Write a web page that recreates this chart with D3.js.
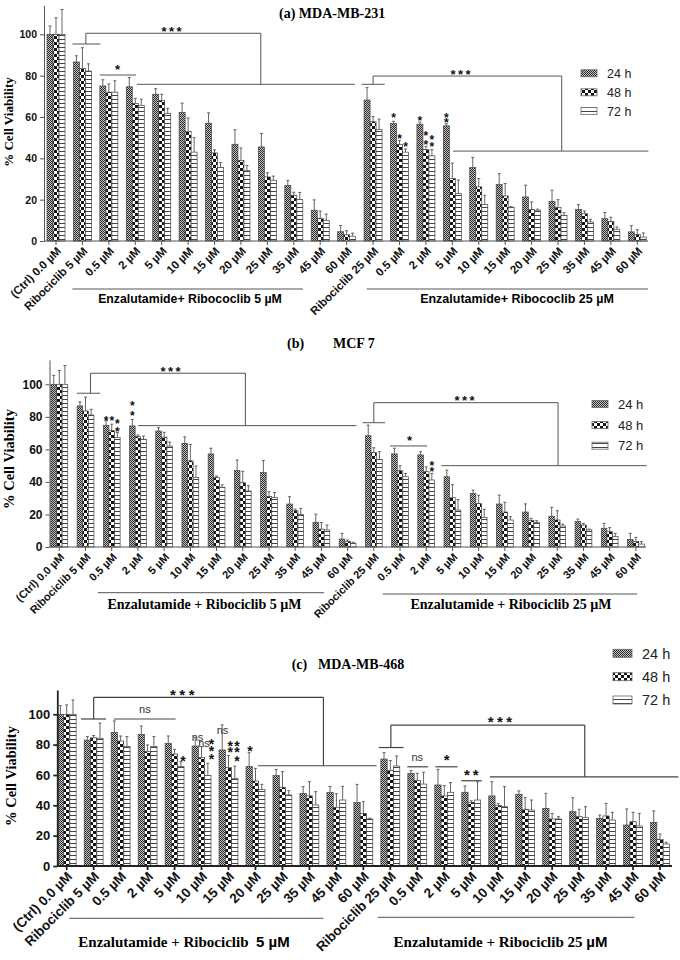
<!DOCTYPE html>
<html><head><meta charset="utf-8">
<script src="https://cdn.jsdelivr.net/npm/d3@7"></script>
<style>body{margin:0;background:#fff}svg{display:block}</style>
</head><body>
<svg id="chart" width="680" height="960"></svg>
<script>
// ---------------- DATA ----------------
const categories = ["(Ctrl) 0.0 µM","Ribociclib 5 µM","0.5 µM","2 µM","5 µM","10 µM","15 µM","20 µM","25 µM","35 µM","45 µM","60 µM",
  "Ribociclib 25 µM","0.5 µM","2 µM","5 µM","10 µM","15 µM","20 µM","25 µM","35 µM","45 µM","60 µM"];
const seriesNames = ["24 h","48 h","72 h"];
const yTicks = [0,20,40,60,80,100];

// (a) MDA-MB-231
const a24 = [100,86.6,75,74.6,71,62.2,57,46.8,45.5,26.8,14.9,4.5,68.2,56.9,56.5,55.7,35.5,27.3,21.3,19.2,15.3,10.8,4.4];
const a48 = [100,83.5,72,66.5,68,53,42.6,39,31,22.1,11,3,57.7,46.7,44.3,30.2,26.2,21.8,15.3,16.2,13.2,9.5,3.2];
const a72 = [100,82.2,72,65.6,61.7,43,35.5,34,29.4,20,10,2.3,54,43,41.2,23,17.6,16.2,14.9,12.4,9.2,5.7,1.9];
const aErr24 = [4,3,3,4.5,2.7,4.5,5,7,6.5,2.5,5,3,6,1,1,1,5,5.3,5.7,5.4,2.3,3,3];
const aErr48 = [8,10,4,2.5,3,6.5,1.5,6,2,1.5,3.5,2,2.5,2,1.5,7.5,4,6,3.6,3.8,1.3,2,2.3];
const aErr72 = [12,3.5,5.5,3,2.5,7,2.5,2.5,2,3.5,3,1.5,5,1.5,3,6.5,4.5,0.5,0.5,1.3,1.3,1.1,2];

// (b) MCF 7
const b24 = [100,86.7,74.8,74.4,71.3,63.7,57.2,47,45.7,26.4,15.2,4.9,68.4,57.2,56.6,43.2,33,26.4,21.5,18.9,15.6,11.5,4.7];
const b48 = [100,83.6,71.5,67.8,67.5,53,42.6,39.5,31,22.3,11,3.3,58,46.9,46.3,30.3,26.8,21.5,16.2,16.6,13.5,9.4,3.3];
const b72 = [100,81.1,67.4,66.2,62,42.8,36.7,34.4,30.5,20,10.5,2.3,53.9,43.2,41.2,22.7,18.2,16.6,15,12.9,10.5,6.4,1.8];
const bErr24 = [5.5,2.5,3,4,2,4,3.5,6.5,7.5,4.5,5,3.5,6.5,3.5,2,4,2,5.5,5,5.5,1.6,3,3.7];
const bErr48 = [8.5,8.5,4,1,3,10,1,7,3,1,4,1,3,3,3,8,5,6,1.4,5.7,1,2.5,2.6];
const bErr72 = [11.5,3.5,3,2,2.5,7,1.5,3.3,3,3.8,3,0.6,4.7,2,4,6.5,5,2,1.2,1.2,0.5,2,1.5];

// (c) MDA-MB-468
const c24 = [100,83,88.1,86.8,80.9,79.1,76.5,65.5,59.6,47.9,48.4,41.8,70.5,61.1,53.4,48.6,46.2,47.3,38,35.8,31.4,27,28.8];
const c48 = [100,84.5,82.4,75.4,73.8,71.4,64.8,56,51.9,46.2,38.7,34.7,62.9,56.3,46.2,42,39.8,37.4,31,32.5,33,29.2,17.6];
const c72 = [100,84.2,78.7,78.7,65.5,59.6,57.8,50.5,46.8,40.2,43.5,31,65.9,54,48.6,43.5,39.1,36.9,31,32.1,30.3,26.4,14.5];
const cErr24 = [5.7,2.3,7.5,5.5,4.8,5.7,16.5,9.2,4.1,4.4,4,12,4.2,1.8,10.3,4.1,9.4,2.2,9.9,9.2,2.2,10.6,7.5];
const cErr48 = [6.2,1.5,3.3,4.4,3.1,7.3,8,8.4,10.3,9.4,9,7.7,6.6,4.8,6.8,1,1.5,7.7,3.7,4.9,8.3,6.2,3.5];
const cErr72 = [9.5,10,6.6,6.6,3.3,8.1,8,3.3,2.9,8.8,9,0.5,6.6,7.8,6.4,12,13.2,6.6,1.5,7,5.1,8.3,1.1];

// ---------------- DRAWING ----------------
const svg = d3.select("#chart");
const SANS = "Arial, 'Liberation Sans', sans-serif";
const SERIF = "'Times New Roman', 'Liberation Serif', serif";
const defs = svg.append("defs");
const patIds = ["p24","p48","p72"];
(function(){
  let p = defs.append("pattern").attr("id","p24").attr("patternUnits","userSpaceOnUse").attr("width",2).attr("height",2);
  p.append("rect").attr("width",2).attr("height",2).attr("fill","#c4c4c4");
  p.append("rect").attr("width",1).attr("height",1).attr("fill","#2a2a2a");
  p.append("rect").attr("x",1).attr("y",1).attr("width",1).attr("height",1).attr("fill","#2a2a2a");
  p = defs.append("pattern").attr("id","p48").attr("patternUnits","userSpaceOnUse").attr("width",6).attr("height",6);
  p.append("rect").attr("width",6).attr("height",6).attr("fill","#fff");
  p.append("rect").attr("width",3).attr("height",3).attr("fill","#151515");
  p.append("rect").attr("x",3).attr("y",3).attr("width",3).attr("height",3).attr("fill","#151515");
  p = defs.append("pattern").attr("id","p72").attr("patternUnits","userSpaceOnUse").attr("width",4).attr("height",4);
  p.append("rect").attr("width",4).attr("height",4).attr("fill","#fff");
  p.append("rect").attr("y",3).attr("width",4).attr("height",1).attr("fill","#444");
})();

function drawPanel(cfg){
  const g = svg.append("g");
  const x = d3.scaleBand().domain(d3.range(categories.length)).range(cfg.xRange).padding(0);
  const step = x.step();
  const y = d3.scaleLinear().domain([0, cfg.yTop]).range([cfg.y0, cfg.y0 - cfg.yTop*cfg.ppu]);
  const xi = d3.scaleBand().domain([0,1,2]).range([-1.5*cfg.bw, 1.5*cfg.bw]);
  const cx = i => x(i) + step/2;
  const X = (i,f) => cx(i) + f*step;
  const barC = (i,s) => cx(i) + xi(s) + xi.bandwidth()/2;
  const lc = cfg.lineColor, lw = cfg.lineWidth;

  // bars
  cfg.values.forEach((vals, s) => {
    const rows = vals.map((v,i) => ({i, s, v, e: cfg.errors[s][i]}));
    g.append("g").selectAll("rect").data(rows).enter().append("rect")
      .attr("x", d => cx(d.i) + xi(d.s)).attr("width", xi.bandwidth())
      .attr("y", d => y(d.v)).attr("height", d => y(0) - y(d.v))
      .attr("fill", `url(#${patIds[s]})`).attr("stroke", "#444").attr("stroke-width", 0.7);
    const eg = g.append("g").attr("stroke", "#555").attr("stroke-width", 0.9);
    eg.selectAll("line.v").data(rows).enter().append("line")
      .attr("x1", d => barC(d.i,d.s)).attr("x2", d => barC(d.i,d.s))
      .attr("y1", d => y(d.v)).attr("y2", d => y(d.v + d.e));
    eg.selectAll("line.c").data(rows).enter().append("line")
      .attr("x1", d => barC(d.i,d.s)-1.5).attr("x2", d => barC(d.i,d.s)+1.5)
      .attr("y1", d => y(d.v + d.e)).attr("y2", d => y(d.v + d.e));
  });

  // y axis
  const ya = g.append("g").attr("transform", `translate(${cfg.yAxisX},0)`)
    .call(d3.axisLeft(y).tickValues(yTicks).tickSize(4).tickSizeOuter(0).tickPadding(3));
  ya.select(".domain").attr("stroke", lc).attr("stroke-width", lw);
  ya.selectAll(".tick line").attr("stroke", lc).attr("stroke-width", lw);
  ya.selectAll("text").attr("font-family", SANS).attr("font-weight","bold").attr("font-size", cfg.yFont).attr("fill","#111");

  // x axis
  const xa = g.append("g").attr("transform", `translate(0,${cfg.y0})`)
    .call(d3.axisBottom(x).tickFormat(i => categories[i]).tickSize(4).tickSizeOuter(0));
  xa.select(".domain").remove();
  xa.selectAll(".tick line").attr("stroke", lc).attr("stroke-width", lw);
  xa.selectAll("text").attr("x",0).attr("y",0).attr("dy","0.35em").attr("text-anchor","end")
    .attr("transform", `translate(3,${cfg.xLabOff}) rotate(-45)`)
    .attr("font-family", SANS).attr("font-weight","bold").attr("font-size", cfg.xFont).attr("fill","#111");
  g.append("line").attr("x1", cfg.yAxisX).attr("x2", cfg.axisEnd).attr("y1", cfg.y0).attr("y2", cfg.y0)
    .attr("stroke", lc).attr("stroke-width", lw);

  // y label
  g.append("text").attr("transform", `translate(${cfg.yLab[0]},${cfg.yLab[1]}) rotate(-90)`)
    .attr("text-anchor","middle").attr("font-family", SERIF).attr("font-weight","bold")
    .attr("font-size", cfg.yLabFont).text("% Cell Viability");

  // legend
  seriesNames.forEach((nm, s) => {
    const yc = cfg.legend.ys[s];
    g.append("rect").attr("x", cfg.legend.x).attr("y", yc - cfg.legend.h/2)
      .attr("width", cfg.legend.w).attr("height", cfg.legend.h)
      .attr("fill", `url(#${patIds[s]})`).attr("stroke","#666").attr("stroke-width",0.8);
    g.append("text").attr("x", cfg.legend.tx).attr("y", yc).attr("dy","0.36em")
      .attr("font-family", SANS).attr("font-size", cfg.legend.font).attr("fill","#222").text(nm);
  });

  const ann = g.append("g").attr("stroke", cfg.annColor).attr("stroke-width", cfg.annWidth).attr("fill","none");
  const api = {
    h: (x1, x2, v) => ann.append("line").attr("x1",x1).attr("x2",x2).attr("y1",y(v)).attr("y2",y(v)),
    v: (xx, v1, v2) => ann.append("line").attr("x1",xx).attr("x2",xx).attr("y1",y(v1)).attr("y2",y(v2)),
    star: (xx, v, txt, size, ls) => g.append("text").attr("x", xx).attr("y", y(v) + 0.57*size)
      .attr("text-anchor","middle").attr("font-family", SANS).attr("font-weight","bold")
      .attr("font-size", size).attr("letter-spacing", ls || 0).attr("fill","#111").text(txt),
    ns: (xx, v, size) => g.append("text").attr("x", xx).attr("y", y(v)).attr("dy","0.35em")
      .attr("text-anchor","middle").attr("font-family", SANS).attr("font-size", size).attr("fill","#333").text("ns"),
    // a cluster of asterisks (and "ns" marks) drawn as ONE text element, each glyph placed on its own
    cluster: (stars, size, nss, nsSize) => {
      const t = g.append("text").attr("text-anchor","middle").attr("font-family", SANS);
      if (nss && nss.length) {
        const k = nsSize/11, xs = [], ys = [];
        nss.forEach(n => { xs.push(n.x - 2.75*k, n.x + 3.05*k); const yy = y(n.v) + 0.35*nsSize; ys.push(yy, yy); });
        t.append("tspan").attr("x", xs.join(" ")).attr("y", ys.join(" "))
          .attr("font-size", nsSize).attr("fill","#333").text("ns".repeat(nss.length));
      }
      t.append("tspan").attr("x", stars.map(s => s.x).join(" "))
        .attr("y", stars.map(s => y(s.v) + 0.57*size).join(" "))
        .attr("font-size", size).attr("font-weight","bold").attr("fill","#111")
        .text("*".repeat(stars.length));
      return t;
    },
    X, y, barC, g
  };
  return api;
}

// ---- Panel (a)
const A = drawPanel({
  values:[a24,a48,a72], errors:[aErr24,aErr48,aErr72],
  xRange:[42.8,650.5], y0:241, ppu:2.067, yTop:114, yAxisX:44, axisEnd:648, bw:6,
  yFont:10.5, xFont:11.5, xLabOff:8, yLab:[13,122], yLabFont:13,
  lineColor:"#555", lineWidth:1, annColor:"#555", annWidth:1,
  legend:{x:581, w:16, h:7, ys:[73.3,92.3,111], tx:607, font:12.5}
});
A.h(A.X(1,-0.38), A.X(1,0.68), 95.3);
A.v(A.X(1,0.13), 95.3, 100.5);
A.h(A.X(1,0.13), A.X(8,-0.25), 100.5);
A.v(A.X(8,-0.25), 100.5, 75.8);
A.h(A.X(3,0.06), A.X(11,0.31), 75.8);
A.h(A.X(2,-0.34), A.X(3,0.03), 80.3);
A.h(A.X(12,-0.43), A.X(12,0.44), 75.8);
A.v(A.X(12,0), 75.8, 79.8);
A.h(A.X(12,0), A.X(19,0.14), 79.8);
A.v(A.X(19,0.14), 79.8, 43.5);
A.h(A.X(15,0.03), A.X(22,0.42), 43.5);
A.star(A.X(4,0.42), 103, "***", 13, 2.5);
A.star(A.X(2,0.33), 84.2, "*", 13);
A.star(A.X(15,0.36), 82, "***", 13, 2.5);
[[[13,0,61],[13,1,50.8],[13,2,46.9]],
 [[14,0,59.5],[14,1,52.1],[14,1,48],[14,2,50],[14,2,46.8]],
 [[15,0,61],[15,0,58.4]]]
  .forEach(grp => A.cluster(grp.map(([i,s,v]) => ({x:A.barC(i,s), v})), 12));
A.g.append("text").attr("x",279).attr("y",18).attr("font-family",SERIF).attr("font-weight","bold").attr("font-size",14).text("(a) MDA-MB-231");
A.g.append("line").attr("x1",A.X(1,-0.38)).attr("x2",A.X(9,0.35)).attr("y1",289).attr("y2",289).attr("stroke","#555");
A.g.append("line").attr("x1",A.X(12,-0.24)).attr("x2",A.X(22,0.41)).attr("y1",289).attr("y2",289).attr("stroke","#555");
A.g.append("text").attr("x",190).attr("y",303).attr("text-anchor","middle").attr("font-family",SANS).attr("font-weight","bold").attr("font-size",12.3).text("Enzalutamide+ Ribococlib 5 µM");
A.g.append("text").attr("x",517).attr("y",303).attr("text-anchor","middle").attr("font-family",SANS).attr("font-weight","bold").attr("font-size",12.5).text("Enzalutamide+ Ribococlib 25 µM");

// ---- Panel (b)
const B = drawPanel({
  values:[b24,b48,b72], errors:[bErr24,bErr48,bErr72],
  xRange:[46.2,649], y0:547, ppu:1.627, yTop:115, yAxisX:49.5, axisEnd:646, bw:5.6,
  yFont:12, xFont:11, xLabOff:8, yLab:[14,459], yLabFont:14.5,
  lineColor:"#555", lineWidth:1, annColor:"#555", annWidth:1,
  legend:{x:592, w:16, h:7, ys:[404,425,445.7], tx:618, font:13}
});
B.h(B.X(1,-0.33), B.X(1,0.56), 94.5);
B.v(B.X(1,0.19), 94.5, 106.8);
B.h(B.X(1,0.19), B.X(7,0.1), 106.8);
B.v(B.X(7,0.1), 106.8, 74.6);
B.h(B.X(3,0), B.X(11,0.34), 74.6);
B.h(B.X(12,-0.43), B.X(12,0.43), 76.4);
B.v(B.X(12,0), 76.4, 88.7);
B.h(B.X(12,0), B.X(19,0.03), 88.7);
B.v(B.X(19,0.03), 88.7, 50);
B.h(B.X(15,-0.42), B.X(22,0.41), 50);
B.h(B.X(13,-0.38), B.X(14,0.04), 62.1);
B.star(B.X(4,0.29), 109.4, "***", 13, 2.5);
B.star(B.X(15,0.51), 91.8, "***", 13, 2.5);
B.star(B.X(13,0.36), 67.4, "*", 13);
[[[2,0,79.3],[2,1,79.3],[2,2,77.6],[2,2,72.4]],
 [[3,0,88.3],[3,0,82.5]],
 [[14,2,51.8],[14,2,47.8]]]
  .forEach(grp => B.cluster(grp.map(([i,s,v]) => ({x:B.barC(i,s), v})), 12));
B.g.append("text").attr("y",348).attr("font-family",SERIF).attr("font-weight","bold").attr("font-size",14)
  .call(t => { t.append("tspan").attr("x",287).text("(b)"); t.append("tspan").attr("x",333).text("MCF 7"); });
B.g.append("line").attr("x1",B.X(1,0.47)).attr("x2",B.X(10,0.1)).attr("y1",592.7).attr("y2",592.7).attr("stroke","#555");
B.g.append("line").attr("x1",B.X(12,0.34)).attr("x2",B.X(22,0.05)).attr("y1",594).attr("y2",594).attr("stroke","#555");
B.g.append("text").attr("x",204.5).attr("y",609).attr("text-anchor","middle").attr("font-family",SERIF).attr("font-weight","bold").attr("font-size",14).text("Enzalutamide + Ribociclib 5 µM");
B.g.append("text").attr("x",511).attr("y",609).attr("text-anchor","middle").attr("font-family",SERIF).attr("font-weight","bold").attr("font-size",14).text("Enzalutamide + Ribociclib 25 µM");

// ---- Panel (c)
const C = drawPanel({
  values:[c24,c48,c72], errors:[cErr24,cErr48,cErr72],
  xRange:[53.2,673.5], y0:866, ppu:1.517, yTop:116, yAxisX:57.3, axisEnd:672, bw:6.3,
  yFont:13, xFont:13.5, xLabOff:8, yLab:[16,776], yLabFont:14.5,
  lineColor:"#222", lineWidth:1.8, annColor:"#444", annWidth:1.2,
  legend:{x:613, w:19, h:8, ys:[653.3,676.7,700], tx:642, font:14.5}
});
C.h(C.X(1,-0.47), C.X(1,0.46), 96.9);
C.v(C.X(1,0), 96.9, 111.2);
C.h(C.X(1,0), C.X(9,0.52), 111.2);
C.v(C.X(9,0.52), 111.2, 66.1);
C.h(C.X(7,0.09), C.X(11,0.49), 66.1);
C.h(C.X(2,-0.25), C.X(4,0.04), 96.9);
C.h(C.X(12,-0.43), C.X(12,0.49), 78.1);
C.v(C.X(12,0.02), 78.1, 92.9);
C.h(C.X(12,0.02), C.X(19,0.21), 92.9);
C.v(C.X(19,0.21), 92.9, 58.8);
C.h(C.X(16,-0.31), C.X(22,0.68), 58.8);
C.h(C.X(13,-0.37), C.X(13,0.4), 65.4);
C.h(C.X(14,-0.33), C.X(14,0.49), 65.4);
C.h(C.X(15,-0.37), C.X(15,0.39), 56.2);
C.star(C.X(4,0.35), 114.8, "***", 15, 3.5);
C.ns(C.X(3,-0.1), 103.2, 11);
C.star(C.X(16,0.13), 97.3, "***", 15, 3.5);
C.ns(C.X(13,0), 72, 11);
C.star(C.X(14,0.09), 72, "*", 15);
C.star(C.X(15,0.06), 62.6, "**", 15, 3);
C.star(C.X(4,0.31), 70.9, "*", 14);
C.cluster([[0.37,82.6],[0.37,77.5],[0.37,72.5]].map(([f,v]) => ({x:C.X(5,f), v})), 14,
  [[-0.15,85.2],[0.09,80.8]].map(([f,v]) => ({x:C.X(5,f), v})), 11);
C.cluster([[0.06,81.2],[0.06,76.9],[0.31,81.2],[0.31,76.9],[0.31,71.3]].map(([f,v]) => ({x:C.X(6,f), v})), 14,
  [[-0.22,89.7]].map(([f,v]) => ({x:C.X(6,f), v})), 11);
C.star(C.X(7,-0.2), 78.1, "*", 14);
C.g.append("text").attr("y",668.5).attr("font-family",SERIF).attr("font-weight","bold").attr("font-size",14)
  .call(t => { t.append("tspan").attr("x",291.7).text("(c)"); t.append("tspan").attr("x",318).text("MDA-MB-468"); });
C.g.append("line").attr("x1",C.X(0,0.09)).attr("x2",C.X(9,0.52)).attr("y1",918.3).attr("y2",918.3).attr("stroke","#555");
C.g.append("line").attr("x1",C.X(11,0.53)).attr("x2",C.X(21,0.05)).attr("y1",917.3).attr("y2",917.3).attr("stroke","#555");
C.g.append("text").attr("x",184).attr("y",947).attr("text-anchor","middle").attr("font-weight","bold").attr("font-size",15)
  .call(t => { t.append("tspan").attr("font-family",SERIF).text("Enzalutamide + Ribociclib\u00a0\u00a0");
               t.append("tspan").attr("font-family",SANS).text("5 µM"); });
C.g.append("text").attr("x",500.5).attr("y",947).attr("text-anchor","middle").attr("font-weight","bold").attr("font-size",15)
  .call(t => { t.append("tspan").attr("font-family",SERIF).text("Enzalutamide + Ribociclib 25 ");
               t.append("tspan").attr("font-family",SANS).text("µM"); });
</script>
</body></html>
